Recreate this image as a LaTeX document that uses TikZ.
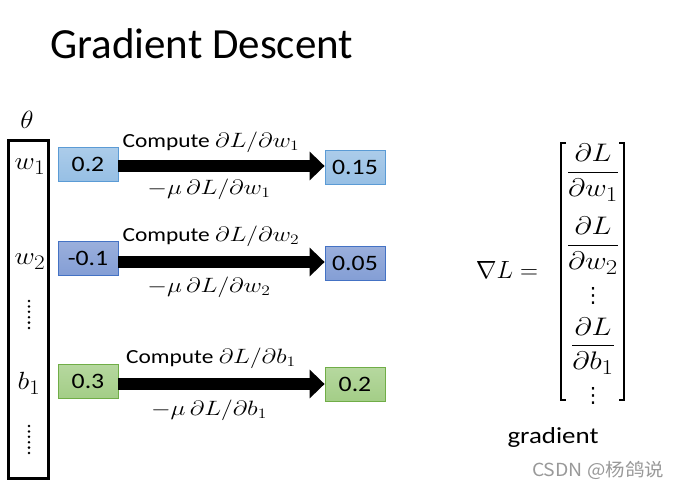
\documentclass[tikz,border=0pt]{standalone}
\usepackage{amsmath}
\usepackage{fontspec}
\setmainfont{Carlito}
\newfontfamily\wide{Carlito}[FakeStretch=1.17]
\newfontfamily\djv{DejaVu Sans}
\newfontfamily\cjk{Noto Sans CJK SC}
\usetikzlibrary{arrows.meta}
\newcommand\sm[2][1.22]{\scalebox{#1}[1]{#2}}
\definecolor{bA}{HTML}{9DC3E6}
\definecolor{bAd}{HTML}{5B9BD5}
\definecolor{bB}{HTML}{8FA6D8}
\definecolor{bBd}{HTML}{4472C4}
\definecolor{gC}{HTML}{A9D18E}
\definecolor{gCd}{HTML}{70AD47}
\tikzset{
  val/.style={draw=#1, line width=0.8pt, minimum width=60pt, minimum height=34pt, inner sep=0pt, font=\wide\fontsize{22}{25}\selectfont},
  bigarrow/.style={line width=12pt, -{Triangle[length=15pt 0 0,width=28pt 0 0]}},
  lbl/.style={font=\wide\fontsize{20}{23}\selectfont, inner sep=0pt},
  mth/.style={font=\fontsize{24.88}{29}\selectfont, inner sep=0pt},
  gfrac/.style={font=\fontsize{24.88}{29}\selectfont, inner sep=0pt},
  vd/.style={font=\djv\fontsize{21}{22}\selectfont, inner sep=0pt},
  pdot/.style={fill=black, draw=none, circle, inner sep=0pt, minimum size=2.8pt}
}
\begin{document}
\begin{tikzpicture}[x=1pt,y=-1pt]
\useasboundingbox (0,0) rectangle (679,487);
\node[anchor=base west, inner sep=0pt, font=\fontsize{43}{46}\selectfont] (title) at (50,59) {Gradient Descent};
\node[mth] (theta) at (27,120) {\sm[1.1]{$\theta$}};
\node[draw, line width=3pt, minimum width=40pt, minimum height=338pt, inner sep=0pt] (vec) at (28,309) {};
\node[mth] (w1l) at (30,167) {\sm[1.12]{$w_1$}};
\node[mth] (w2l) at (30,262) {\sm[1.12]{$w_2$}};
\node[mth] (b1l) at (29,383) {\sm[1.12]{$b_1$}};
\foreach \i in {0,...,5} {
  \node[pdot] (da\i) at (29,{301+5.4*\i}) {};
  \node[pdot] (db\i) at (29,{426+5.4*\i}) {};
}
% boxes
\node[val=bAd, top color=bA!85!white, bottom color=bA!90!bAd] (a1) at (88,164) {0.2};
\node[val=bAd, top color=bA!85!white, bottom color=bA!90!bAd] (c1) at (355,167) {0.15};
\node[val=bBd, top color=bB!90!white, bottom color=bB!85!bBd] (a2) at (88,258.5) {-0.1};
\node[val=bBd, top color=bB!90!white, bottom color=bB!85!bBd] (c2) at (355,263) {0.05};
\node[val=gCd, top color=gC!85!white, bottom color=gC!90!gCd] (a3) at (88,381) {0.3};
\node[val=gCd, top color=gC!85!white, bottom color=gC!90!gCd] (c3) at (355,384.5) {0.2};
% arrows
\draw[bigarrow] (a1.east |- 0,166) -- (c1.west |- 0,166);
\draw[bigarrow] (a2.east |- 0,262) -- (c2.west |- 0,262);
\draw[bigarrow] (a3.east |- 0,384) -- (c3.west |- 0,384);
% labels
\node[lbl] (t1) at (211,142) {Compute \sm{\fontsize{20.74}{24}\selectfont$\partial L/\partial w_1$}};
\node[lbl] (u1) at (209,189) {\sm{\fontsize{20.74}{24}\selectfont$-\mu\,\partial L/\partial w_1$}};
\node[lbl] (t2) at (211,236) {Compute \sm{\fontsize{20.74}{24}\selectfont$\partial L/\partial w_2$}};
\node[lbl] (u2) at (209,287) {\sm{\fontsize{20.74}{24}\selectfont$-\mu\,\partial L/\partial w_2$}};
\node[lbl] (t3) at (211,358) {Compute \sm{\fontsize{20.74}{24}\selectfont$\partial L/\partial b_1$}};
\node[lbl] (u3) at (209,410) {\sm{\fontsize{20.74}{24}\selectfont$-\mu\,\partial L/\partial b_1$}};
% gradient
\node[font=\fontsize{24.88}{29}\selectfont, inner sep=0pt] (nab) at (507,270) {$\nabla L =$};
\draw[line width=1.2pt] (566,143) -- (561,143) -- (561,400) -- (566,400);
\draw[line width=1.2pt] (619,143) -- (624,143) -- (624,400) -- (619,400);
\node[gfrac] (g1) at (593,172.5) {\scalebox{1.2}[1.02]{$\dfrac{\partial L}{\partial w_1}$}};
\node[gfrac] (g2) at (593,245.5) {\scalebox{1.2}[1.02]{$\dfrac{\partial L}{\partial w_2}$}};
\node[vd] (v1) at (593,296) {⋮};
\node[gfrac] (g3) at (593,346) {\scalebox{1.2}[1.02]{$\dfrac{\partial L}{\partial b_1}$}};
\node[vd] (v2) at (593,396) {⋮};
\node[font=\wide\fontsize{23}{26}\selectfont, inner sep=0pt] (grad) at (553,437) {gradient};
\node[font=\cjk\fontsize{18}{20}\selectfont, text=black!40, inner sep=0pt] (wm) at (598,470) {\scalebox{1.08}[1]{CSDN @杨鸽说}};
\end{tikzpicture}
\end{document}
